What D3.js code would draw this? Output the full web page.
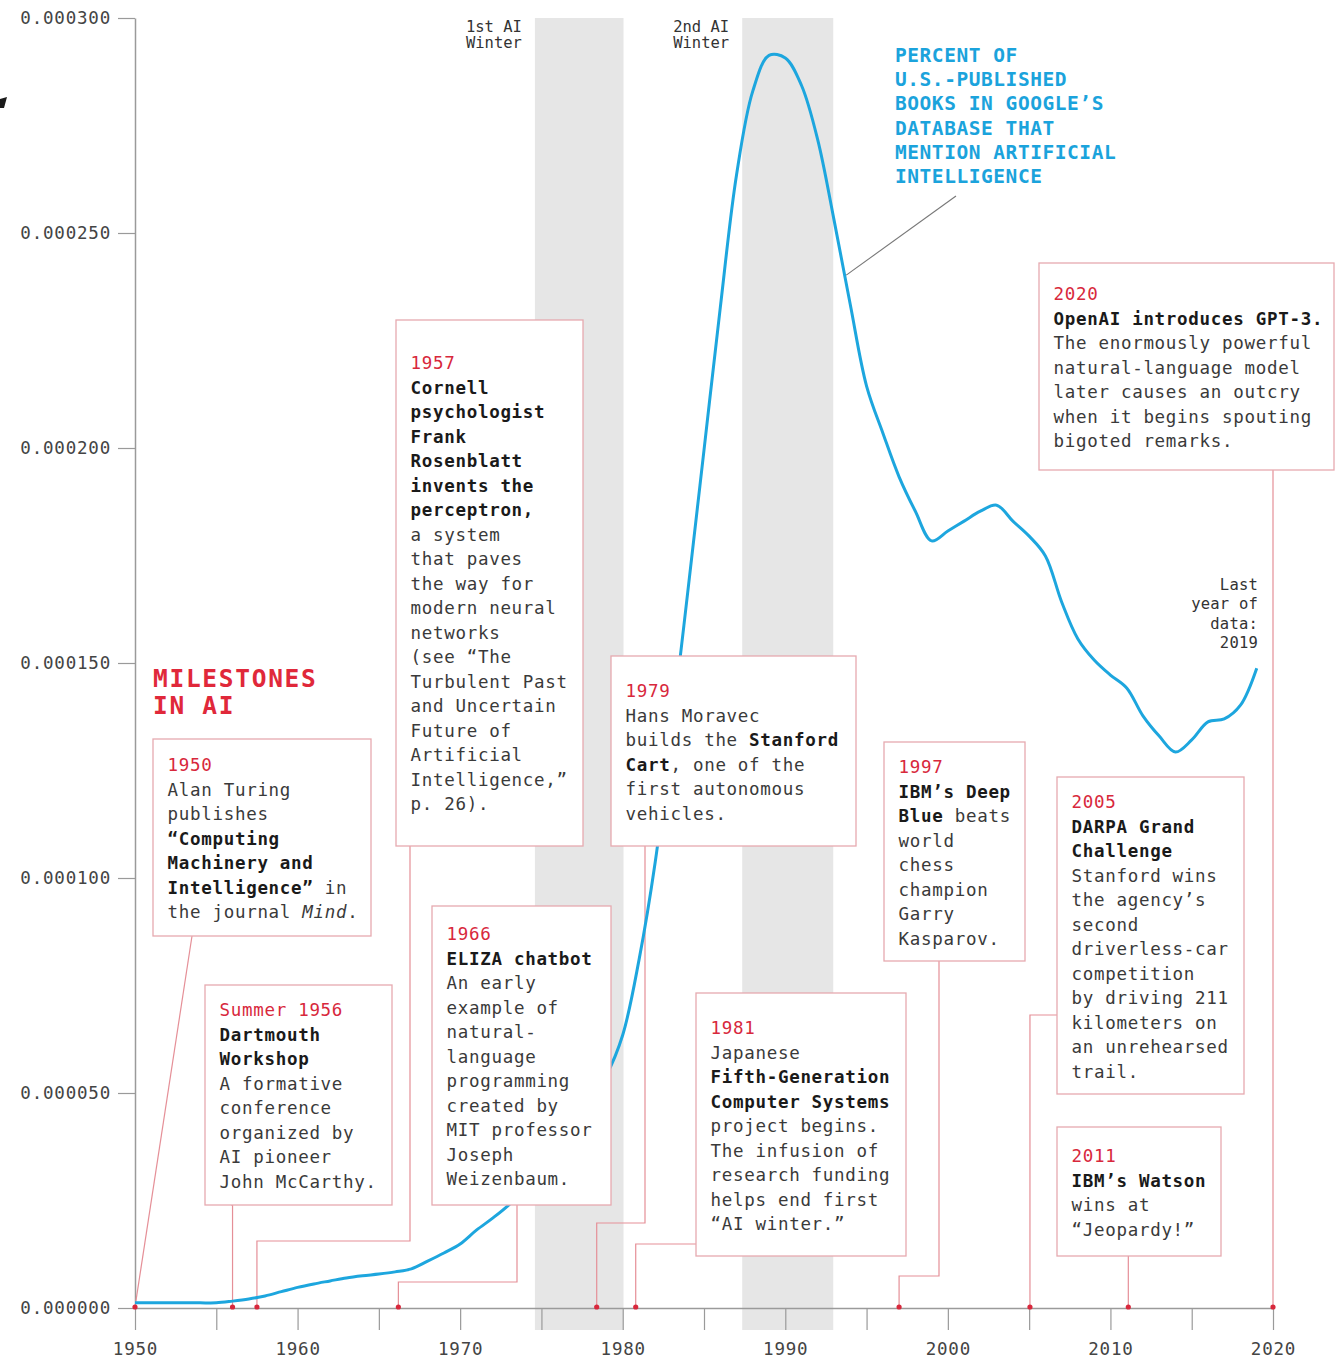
<!doctype html>
<html>
<head>
<meta charset="utf-8">
<script src="https://cdn.jsdelivr.net/npm/d3@7"></script>
<style>
  body { margin: 0; background: #fff; }
  svg { display: block; font-family: "DejaVu Sans Mono", monospace; }
</style>
</head>
<body>
<script>
// Share of U.S.-published books mentioning "artificial intelligence"
const years = [
  1950, 1951, 1952, 1953, 1954, 1955, 1956, 1957, 1958, 1959,
  1960, 1961, 1962, 1963, 1964, 1965, 1966, 1967, 1968, 1969,
  1970, 1971, 1972, 1973, 1974, 1975, 1976, 1977, 1978, 1979,
  1980, 1981, 1982, 1983, 1984, 1985, 1986, 1987, 1988, 1989,
  1990, 1991, 1992, 1993, 1994, 1995, 1996, 1997, 1998, 1999,
  2000, 2001, 2002, 2003, 2004, 2005, 2006, 2007, 2008, 2009,
  2010, 2011, 2012, 2013, 2014, 2015, 2016, 2017, 2018, 2019
];
const share = [
  0.0000012, 0.0000012, 0.0000012, 0.0000012, 0.0000012, 0.0000012, 0.0000016, 0.0000021, 0.0000028, 0.0000038,
  0.0000048, 0.0000056, 0.0000063, 0.0000070, 0.0000075, 0.0000079, 0.0000084, 0.0000091, 0.0000109, 0.0000128,
  0.0000149, 0.0000181, 0.0000209, 0.0000240, 0.0000279, 0.0000333, 0.0000379, 0.0000426, 0.0000484, 0.0000542,
  0.0000635, 0.0000809, 0.0001037, 0.0001340, 0.0001665, 0.0001995, 0.0002326, 0.0002635, 0.0002830, 0.0002913,
  0.0002907, 0.0002843, 0.0002716, 0.0002530, 0.0002333, 0.0002144, 0.0002035, 0.0001933, 0.0001853, 0.0001784,
  0.0001807, 0.0001830, 0.0001853, 0.0001867, 0.0001830, 0.0001795, 0.0001749, 0.0001642, 0.0001556, 0.0001507,
  0.0001472, 0.0001442, 0.0001377, 0.0001330, 0.0001293, 0.0001321, 0.0001363, 0.0001370, 0.0001402, 0.0001488
];

const yTicks = [0, 0.00005, 0.0001, 0.00015, 0.0002, 0.00025, 0.0003];
const xTicks = [1950, 1955, 1960, 1965, 1970, 1975, 1980, 1985, 1990, 1995, 2000, 2005, 2010, 2015, 2020];

const winters = [
  {label: ["1st AI", "Winter"], from: 1974.6, to: 1980.05},
  {label: ["2nd AI", "Winter"], from: 1987.35, to: 1992.95}
];

const seriesLabel = ["PERCENT OF", "U.S.-PUBLISHED", "BOOKS IN GOOGLE’S", "DATABASE THAT", "MENTION ARTIFICIAL", "INTELLIGENCE"];
const seriesLabelPointer = [[2000.5, 0.0002586], [1993.75, 0.0002402]];
const lastYearNote = ["Last", "year of", "data:", "2019"];
const title = ["MILESTONES", "IN AI"];

// **bold**, _italic_
const milestones = [
  {when: "1950", dot: 1950, lines: ["Alan Turing", "publishes", "**“Computing**", "**Machinery and**", "**Intelligence”** in", "the journal _Mind_."]},
  {when: "Summer 1956", dot: 1956, lines: ["**Dartmouth**", "**Workshop**", "A formative", "conference", "organized by", "AI pioneer", "John McCarthy."]},
  {when: "1957", dot: 1957.5, lines: ["**Cornell**", "**psychologist**", "**Frank**", "**Rosenblatt**", "**invents the**", "**perceptron,**", "a system", "that paves", "the way for", "modern neural", "networks", "(see “The", "Turbulent Past", "and Uncertain", "Future of", "Artificial", "Intelligence,”", "p. 26)."]},
  {when: "1966", dot: 1966.2, lines: ["**ELIZA chatbot**", "An early", "example of", "natural-", "language", "programming", "created by", "MIT professor", "Joseph", "Weizenbaum."]},
  {when: "1979", dot: 1978.4, lines: ["Hans Moravec", "builds the **Stanford**", "**Cart**, one of the", "first autonomous", "vehicles."]},
  {when: "1981", dot: 1980.8, lines: ["Japanese", "**Fifth-Generation**", "**Computer Systems**", "project begins.", "The infusion of", "research funding", "helps end first", "“AI winter.”"]},
  {when: "1997", dot: 1997, lines: ["**IBM’s Deep**", "**Blue** beats", "world", "chess", "champion", "Garry", "Kasparov."]},
  {when: "2005", dot: 2005.05, lines: ["**DARPA Grand**", "**Challenge**", "Stanford wins", "the agency’s", "second", "driverless-car", "competition", "by driving 211", "kilometers on", "an unrehearsed", "trail."]},
  {when: "2011", dot: 2011.1, lines: ["**IBM’s Watson**", "wins at", "“Jeopardy!”"]},
  {when: "2020", dot: 2020, lines: ["**OpenAI introduces GPT-3.**", "The enormously powerful", "natural-language model", "later causes an outcry", "when it begins spouting", "bigoted remarks."]}
];

// annotation layout (pixels): box, first baseline, leader start and elbow height
const boxLayout = [
  {box: [153, 739, 371, 936], base: 771, from: [192, 936], elbow: null},
  {box: [205, 985, 392, 1205], base: 1016, from: [231, 1205], elbow: 1205},
  {box: [396, 320, 583, 846], base: 369, from: [410, 846], elbow: 1241},
  {box: [432, 906, 611, 1205], base: 940, from: [517, 1205], elbow: 1282},
  {box: [611, 656, 856, 846], base: 697, from: [645, 846], elbow: 1223},
  {box: [696, 993, 906, 1256], base: 1034, from: [696, 1244], elbow: 1244},
  {box: [884, 742, 1025, 961], base: 773, from: [939, 961], elbow: 1276},
  {box: [1057, 777, 1244, 1094], base: 808, from: [1057, 1015], elbow: 1015},
  {box: [1057, 1127, 1221, 1256], base: 1162, from: [1129, 1256], elbow: 1256},
  {box: [1039, 263, 1334, 470], base: 300, from: [1273, 470], elbow: 470}
];

const W = 1337, H = 1362;
const red = "#d8283c", blue = "#1da6de", axisGrey = "#9a9a9a";
const lineH = 24.5;

const x = d3.scaleLinear().domain([1950, 2020]).range([135, 1273]);
const y = d3.scaleLinear().domain([0, 0.0003]).range([1308, 18]);

const svg = d3.select("body").append("svg").attr("width", W).attr("height", H);
svg.append("rect").attr("width", W).attr("height", H).attr("fill", "#fff");

// stray mark at the left edge of the source image
svg.append("path").attr("d", "M0,99L7,97L4,108L0,108Z").attr("fill", "#1a1a1a");

// AI winters
svg.append("g").selectAll("rect").data(winters).join("rect")
    .attr("x", d => x(d.from))
    .attr("width", d => x(d.to) - x(d.from))
    .attr("y", y(0.0003))
    .attr("height", y(0) + 22 - y(0.0003))
    .attr("fill", "#e6e6e6");

svg.append("g").selectAll("text").data(winters).join("text")
    .attr("x", d => x(d.from) - 13)
    .attr("y", 32)
    .attr("text-anchor", "end")
    .attr("font-size", 15.5)
    .attr("fill", "#333")
    .selectAll("tspan").data(d => d.label).join("tspan")
    .attr("x", function() { return d3.select(this.parentNode).attr("x"); })
    .attr("dy", (d, i) => i ? 16 : 0)
    .text(d => d);

// axes
const yAxis = svg.append("g")
    .attr("transform", `translate(${x(1950)},0)`)
    .call(d3.axisLeft(y).tickValues(yTicks).tickFormat(d3.format(".6f"))
      .tickSize(17).tickPadding(7).tickSizeOuter(0));

const xAxis = svg.append("g")
    .attr("transform", `translate(0,${y(0)})`)
    .call(d3.axisBottom(x).tickValues(xTicks).tickFormat(d => d % 10 === 0 ? d : "")
      .tickSize(22).tickPadding(13).tickSizeOuter(0));

for (const g of [yAxis, xAxis]) {
  g.select(".domain").attr("stroke", axisGrey).attr("stroke-width", 1.5);
  g.selectAll(".tick line").attr("stroke", axisGrey).attr("stroke-width", 1.2);
  g.selectAll(".tick text")
      .attr("font-family", "DejaVu Sans Mono, monospace")
      .attr("font-size", 17.5)
      .attr("letter-spacing", 0.8)
      .attr("fill", "#444");
}

// leader lines from milestone boxes to the timeline
const leaderPath = (m, l) => {
  const xd = x(m.dot), y0 = y(0) - 1;
  if (l.elbow === null) return d3.line()([l.from, [xd, y0]]);
  return d3.line()([l.from, [l.from[0], l.elbow], [xd, l.elbow], [xd, y0]]);
};
svg.append("g")
    .attr("fill", "none").attr("stroke", "#e58f97").attr("stroke-width", 1.2)
    .selectAll("path").data(milestones).join("path")
    .attr("d", (m, i) => leaderPath(m, boxLayout[i]));

// series
const series = years.map((yr, i) => ({year: yr, value: share[i]}));
svg.append("path")
    .datum(series)
    .attr("fill", "none")
    .attr("stroke", blue)
    .attr("stroke-width", 3)
    .attr("stroke-linejoin", "round")
    .attr("d", d3.line().x(d => x(d.year)).y(d => y(d.value)).curve(d3.curveCatmullRom.alpha(0.5)));

svg.append("path")
    .attr("d", d3.line()(seriesLabelPointer.map(([a, b]) => [x(a), y(b)])))
    .attr("stroke", "#777").attr("stroke-width", 1.1);

svg.append("text")
    .attr("font-size", 19.5).attr("font-weight", 700).attr("letter-spacing", 0.55)
    .attr("fill", "#1ba3dc")
    .selectAll("tspan").data(seriesLabel).join("tspan")
    .attr("x", 895).attr("y", (d, i) => 62 + i * 24.2)
    .text(d => d);

svg.append("text")
    .attr("font-size", 15.5).attr("letter-spacing", 0.2).attr("fill", "#333")
    .attr("text-anchor", "end")
    .selectAll("tspan").data(lastYearNote).join("tspan")
    .attr("x", 1258).attr("y", (d, i) => 590 + i * 19.3)
    .text(d => d);

svg.append("text")
    .attr("font-size", 24.5).attr("font-weight", 700).attr("letter-spacing", 1.7)
    .attr("fill", "#e0283a")
    .selectAll("tspan").data(title).join("tspan")
    .attr("x", 153).attr("y", (d, i) => 687 + i * 26.5)
    .text(d => d);

// milestone boxes
const boxes = svg.append("g").selectAll("g").data(milestones).join("g");

boxes.append("rect")
    .attr("x", (m, i) => boxLayout[i].box[0])
    .attr("y", (m, i) => boxLayout[i].box[1])
    .attr("width", (m, i) => boxLayout[i].box[2] - boxLayout[i].box[0])
    .attr("height", (m, i) => boxLayout[i].box[3] - boxLayout[i].box[1])
    .attr("fill", "#fff")
    .attr("stroke", "#e6aab0")
    .attr("stroke-width", 1.3);

function segments(line) {
  return line.split(/(\*\*[^*]+\*\*|_[^_]+_)/).filter(s => s).map(s => {
    if (s.startsWith("**")) return {t: s.slice(2, -2), b: true};
    if (s.startsWith("_")) return {t: s.slice(1, -1), i: true};
    return {t: s};
  });
}

boxes.each(function(m, i) {
  const l = boxLayout[i];
  const tx = l.box[0] + 14.5;
  const g = d3.select(this).append("text")
      .attr("font-size", 17.5)
      .attr("letter-spacing", 0.7);
  g.append("tspan")
      .attr("x", tx).attr("y", l.base)
      .attr("fill", red)
      .text(m.when);
  m.lines.forEach((line, k) => {
    segments(line).forEach((s, j) => {
      const ts = g.append("tspan").text(s.t)
          .attr("fill", s.b ? "#1a1a1a" : "#3a3a3a")
          .attr("font-weight", s.b ? 700 : 400)
          .attr("font-style", s.i ? "italic" : "normal");
      if (j === 0) ts.attr("x", tx).attr("y", l.base + (k + 1) * lineH);
    });
  });
});

// event markers on the timeline
svg.append("g").selectAll("circle").data(milestones).join("circle")
    .attr("cx", m => x(m.dot))
    .attr("cy", y(0) - 1)
    .attr("r", 2.6)
    .attr("fill", red);
</script>
</body>
</html>
